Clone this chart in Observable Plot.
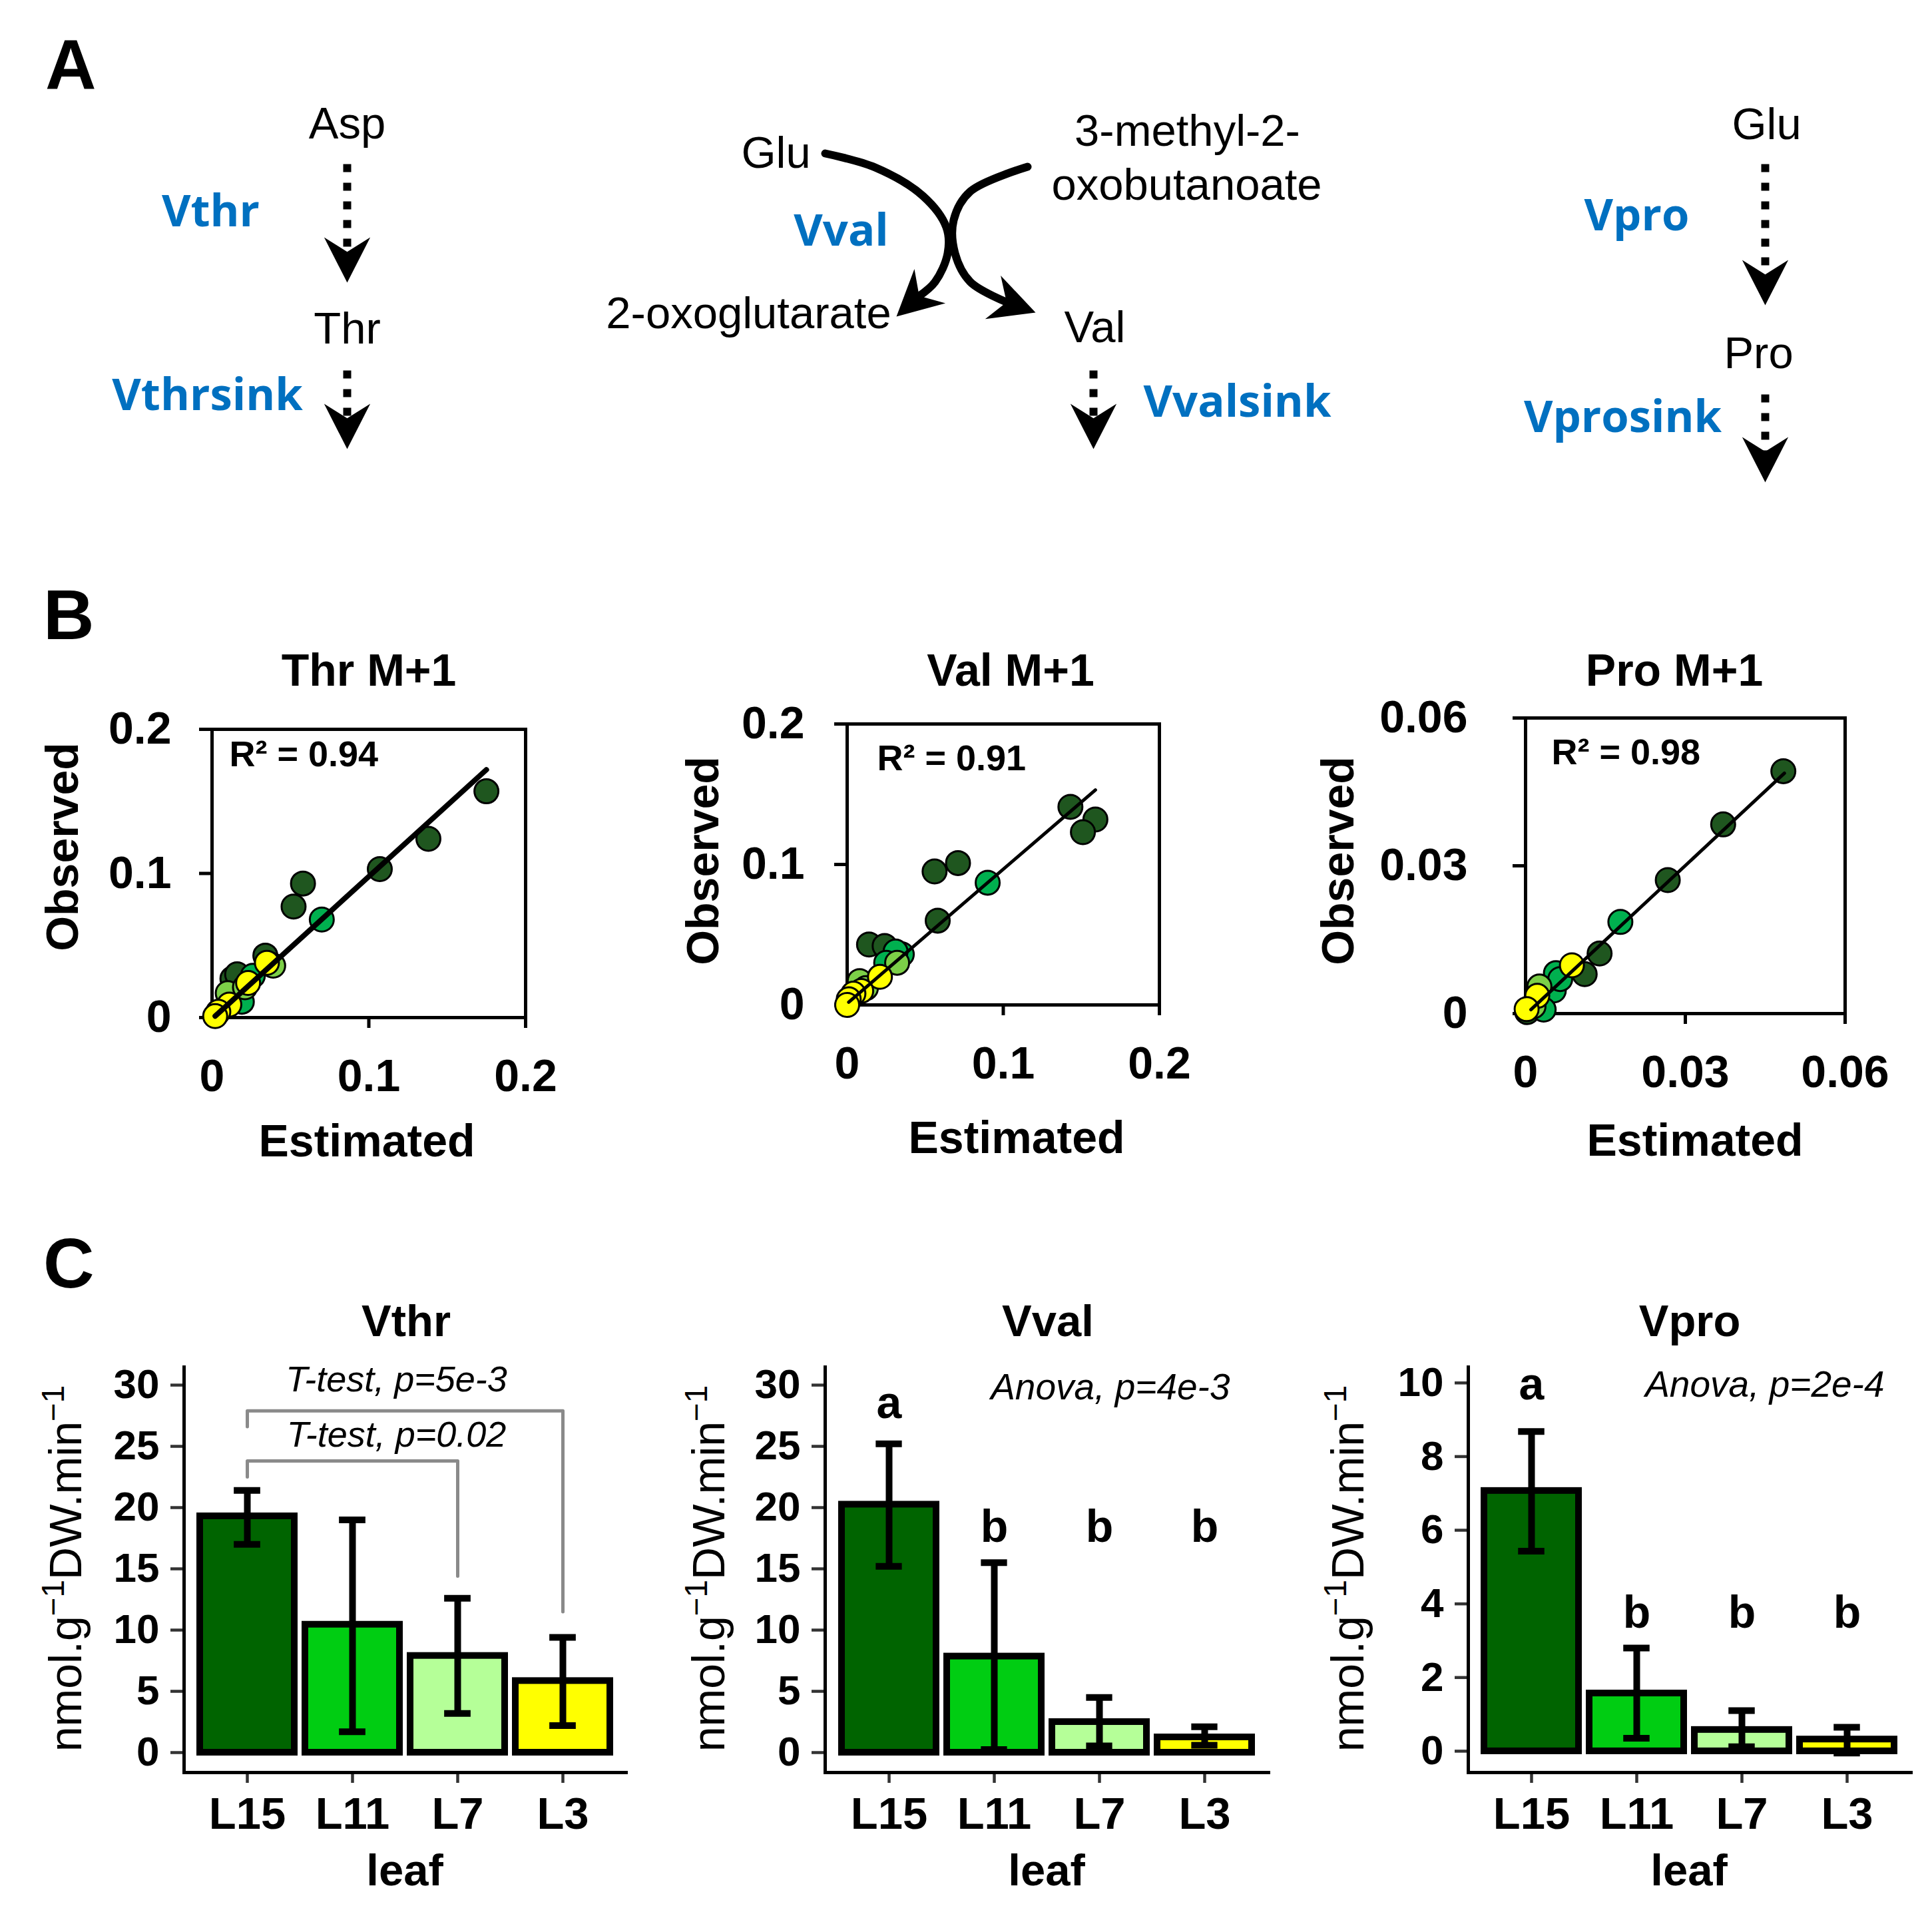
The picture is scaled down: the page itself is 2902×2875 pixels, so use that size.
<!DOCTYPE html>
<html>
<head>
<meta charset="utf-8">
<script src="https://cdn.jsdelivr.net/npm/d3@7"></script>
<script src="https://cdn.jsdelivr.net/npm/@observablehq/plot@0.6"></script>
<style>
  html, body { margin: 0; padding: 0; background: #fff; }
  #page { position: relative; width: 2902px; height: 2875px; overflow: hidden; background: #fff; }
</style>
</head>
<body>
<div id="page"></div>
<script>
// ---------------- DATA ----------------
const leaves = ["L15", "L11", "L7", "L3"];
const dotColors = ["#1f561f", "#00b04f", "#7ccf48", "#ffff00"];
const barColors = ["#006400", "#00cd12", "#b5ff98", "#ffff00"];

// Panel A – pathway diagram
const metaboliteNames = ["Asp", "Thr", "Glu", "3-methyl-2-", "oxobutanoate", "2-oxoglutarate", "Val", "Glu", "Pro"];
const fluxNames = ["Vthr", "Vthrsink", "Vval", "Vvalsink", "Vpro", "Vprosink"];

// Panel B – Thr M+1
const thrEstimated = [0.175, 0.138, 0.107, 0.058, 0.052, 0.034, 0.013, 0.016, 0.070, 0.026, 0.019, 0.037, 0.010, 0.021, 0.039, 0.035, 0.023, 0.011, 0.004, 0.002];
const thrObserved  = [0.157, 0.124, 0.103, 0.093, 0.077, 0.043, 0.027, 0.030, 0.068, 0.029, 0.011, 0.037, 0.017, 0.021, 0.036, 0.038, 0.024, 0.009, 0.004, 0.001];
const thrLeaf = ["L15","L15","L15","L15","L15","L15","L15","L15","L11","L11","L11","L11","L7","L7","L7","L3","L3","L3","L3","L3"];
const thrFitEstimated = [0.002, 0.175];
const thrFitObserved = [0.001, 0.172];
const thrR2 = "R² = 0.94";

// Panel B – Val M+1
const valEstimated = [0.143, 0.159, 0.151, 0.071, 0.056, 0.058, 0.014, 0.024, 0.090, 0.035, 0.031, 0.025, 0.032, 0.008, 0.012, 0.021, 0.009, 0.004, 0.001, 0.000];
const valObserved  = [0.141, 0.132, 0.123, 0.101, 0.095, 0.060, 0.043, 0.042, 0.087, 0.036, 0.038, 0.030, 0.030, 0.017, 0.012, 0.020, 0.010, 0.008, 0.004, 0.000];
const valLeaf = ["L15","L15","L15","L15","L15","L15","L15","L15","L11","L11","L11","L11","L7","L7","L7","L3","L3","L3","L3","L3"];
const valFitEstimated = [0.001, 0.159];
const valFitObserved = [0.002, 0.153];
const valR2 = "R² = 0.91";

// Panel B – Pro M+1
const proEstimated = [0.0484, 0.0371, 0.0267, 0.0139, 0.0111, 0.0003, 0.0178, 0.0057, 0.0053, 0.0034, 0.0065, 0.0026, 0.0015, 0.0087, 0.0022, 0.0002];
const proObserved  = [0.0492, 0.0384, 0.0271, 0.0122, 0.0080, 0.0003, 0.0186, 0.0082, 0.0047, 0.0008, 0.0070, 0.0055, 0.0015, 0.0098, 0.0036, 0.0009];
const proLeaf = ["L15","L15","L15","L15","L15","L15","L11","L11","L11","L11","L11","L7","L7","L3","L3","L3"];
const proFitEstimated = [0.001, 0.0486];
const proFitObserved = [0.0008, 0.0488];
const proR2 = "R² = 0.98";

const ticksB02 = [0, 0.1, 0.2];
const ticksB006 = [0, 0.03, 0.06];

// Panel C – fluxes (nmol.g-1 DW.min-1)
const vthrMean = [19.3, 10.45, 7.9, 5.85];
const vthrLow  = [17.0, 1.7, 3.2, 2.2];
const vthrHigh = [21.4, 19.0, 12.6, 9.4];
const vthrTestPairs = [["L15", "L7"], ["L15", "L3"]];
const vthrTestLabels = ["T-test, p=0.02", "T-test, p=5e-3"];

const vvalMean = [20.25, 7.85, 2.5, 1.25];
const vvalLow  = [15.2, 0.25, 0.55, 0.6];
const vvalHigh = [25.2, 15.5, 4.5, 2.1];
const vvalLetters = ["a", "b", "b", "b"];
const vvalAnova = "Anova, p=4e-3";

const vproMean = [7.07, 1.57, 0.58, 0.32];
const vproLow  = [5.43, 0.35, 0.12, -0.05];
const vproHigh = [8.68, 2.8, 1.1, 0.65];
const vproLetters = ["a", "b", "b", "b"];
const vproAnova = "Anova, p=2e-4";

const ticksC30 = [0, 5, 10, 15, 20, 25, 30];
const ticksC10 = [0, 2, 4, 6, 8, 10];

// ---------------- LAYOUT ----------------
const FONT = "'Liberation Sans', Arial, Helvetica, sans-serif";
const page = document.getElementById("page");
function mount(svg, left, top) {
  svg.style.position = "absolute";
  svg.style.left = left + "px";
  svg.style.top = top + "px";
  svg.style.maxWidth = "none";
  svg.style.background = "transparent";
  svg.style.overflow = "visible";
  page.appendChild(svg);
}
const plainNumber = d => String(d);

// ---------- Panel A ----------
const metabolitePos = [[521, 207], [521, 515], [1165, 251], [1783, 218], [1782, 299], [1124, 492], [1644, 513], [2653, 208], [2641, 552]];
const fluxPos = [[316, 339], [311, 615], [1263, 368], [1858, 625], [2458, 345], [2437, 648]];
const dashedArrows = [
  {x: 521, y1: 246, y2: 424},
  {x: 521, y1: 556, y2: 674},
  {x: 1642, y1: 556, y2: 674},
  {x: 2651, y1: 246, y2: 458},
  {x: 2651, y1: 592, y2: 724}
];
const curvedArrows = [
  {id: "glu", pts: [[1239, 230], [1314, 251], [1386, 294], [1421, 341], [1423, 380], [1404, 423], [1379, 445]], tip: [1346, 475]},
  {id: "kiv", pts: [[1543, 250], [1457, 287], [1432, 330], [1434, 380], [1457, 423], [1513, 454]], tip: [1555, 469]}
];
const NOTCH = 46;
const stealth = {
  draw(ctx, size) {
    const r = Math.sqrt(size / Math.PI);
    ctx.moveTo(0, 0);
    ctx.lineTo(r * 1.02, 2 * r);
    ctx.lineTo(0, 1.36 * r);
    ctx.lineTo(-r * 1.02, 2 * r);
    ctx.closePath();
  }
};
const heads = [
  ...dashedArrows.map(d => ({x: d.x, y: d.y2, rot: 180})),
  ...curvedArrows.map(d => {
    const [lx, ly] = d.pts[d.pts.length - 1];
    const [tx, ty] = d.tip;
    return {x: tx, y: ty, rot: Math.atan2(ty - ly, tx - lx) * 180 / Math.PI + 90};
  })
];
const curveRows = curvedArrows.flatMap(d => d.pts.map(([x, y]) => ({id: d.id, x, y})));
const metabolites = metaboliteNames.map((name, i) => ({name, x: metabolitePos[i][0], y: metabolitePos[i][1]}));
const fluxes = fluxNames.map((name, i) => ({name, x: fluxPos[i][0], y: fluxPos[i][1]}));

mount(Plot.plot({
  width: 2902, height: 820, margin: 0,
  x: {domain: [0, 2902], range: [0, 2902], axis: null},
  y: {domain: [0, 820], range: [0, 820], axis: null},
  style: {fontFamily: FONT, background: "transparent"},
  marks: [
    Plot.link(dashedArrows, {x1: "x", x2: "x", y1: "y1", y2: d => d.y2 - NOTCH, stroke: "black", strokeWidth: 12, strokeDasharray: "12,16"}),
    Plot.line(curveRows, {x: "x", y: "y", z: "id", curve: "catmull-rom", stroke: "black", strokeWidth: 12}),
    Plot.dot(heads, {x: "x", y: "y", rotate: "rot", symbol: stealth, r: 34, fill: "black", stroke: null}),
    Plot.text(metabolites, {x: "x", y: "y", text: "name", fontSize: 67, lineAnchor: "bottom", fill: "black"}),
    Plot.text(fluxes, {x: "x", y: "y", text: "name", fontSize: 67, lineAnchor: "bottom", fill: "#0070c0", fontWeight: 700, fontFamily: "'Open Sans', sans-serif"})
  ]
}), 0, 0);

// ---------- Panel B ----------
function scatterPanel(p) {
  const rows = p.estimated.map((e, i) => ({estimated: e, observed: p.observed[i], leaf: p.leaf[i]}));
  const fit = p.fitEstimated.map((e, i) => ({estimated: e, observed: p.fitObserved[i]}));
  const m = {top: 40, right: 110, bottom: 160, left: 230};
  const b = p.box;
  const svg = Plot.plot({
    width: b.x1 - b.x0 + m.left + m.right,
    height: b.y1 - b.y0 + m.top + m.bottom,
    marginTop: m.top, marginRight: m.right, marginBottom: m.bottom, marginLeft: m.left,
    x: {domain: p.domain, axis: null, label: null},
    y: {domain: p.domain, axis: null, label: null},
    color: {domain: leaves, range: dotColors},
    style: {fontFamily: FONT, background: "transparent"},
    marks: [
      Plot.axisY({ticks: p.ticks, tickFormat: plainNumber, tickSize: 19, tickPadding: p.padY, strokeWidth: 5, fontSize: 68, fontWeight: "bold", label: null}),
      Plot.axisX({ticks: p.ticks, tickFormat: plainNumber, tickSize: 16, tickPadding: 46, strokeWidth: 5, fontSize: 68, fontWeight: "bold", label: null}),
      Plot.frame({stroke: "black", strokeWidth: 5}),
      Plot.dot(rows, {x: "estimated", y: "observed", fill: "leaf", stroke: "black", strokeWidth: 3, r: 18}),
      Plot.line(fit, {x: "estimated", y: "observed", stroke: "black", strokeWidth: p.lineWidth}),
      Plot.text([p.r2], {text: d => d, frameAnchor: "top-left", textAnchor: "start", lineAnchor: "bottom", dx: p.r2dx, dy: p.r2dy, fontSize: 54, fontWeight: "bold", fill: "black"})
    ]
  });
  mount(svg, b.x0 - m.left, b.y0 - m.top);
}

scatterPanel({estimated: thrEstimated, observed: thrObserved, leaf: thrLeaf, fitEstimated: thrFitEstimated, fitObserved: thrFitObserved,
  r2: thrR2, domain: [0, 0.2], ticks: ticksB02, box: {x0: 318, x1: 789, y0: 1095, y1: 1528}, padY: 42, lineWidth: 8, r2dx: 26, r2dy: 55});
scatterPanel({estimated: valEstimated, observed: valObserved, leaf: valLeaf, fitEstimated: valFitEstimated, fitObserved: valFitObserved,
  r2: valR2, domain: [0, 0.2], ticks: ticksB02, box: {x0: 1272, x1: 1741, y0: 1087, y1: 1509}, padY: 45, lineWidth: 5, r2dx: 45, r2dy: 69});
scatterPanel({estimated: proEstimated, observed: proObserved, leaf: proLeaf, fitEstimated: proFitEstimated, fitObserved: proFitObserved,
  r2: proR2, domain: [0, 0.06], ticks: ticksB006, box: {x0: 2291, x1: 2771, y0: 1078, y1: 1522}, padY: 68, lineWidth: 5, r2dx: 39, r2dy: 69});

// ---------- Panel C ----------
function barPanel(p) {
  const rows = leaves.map((leaf, i) => ({leaf, mean: p.mean[i], low: p.low[i], high: p.high[i]}));
  const m = {top: 60, right: 40, bottom: 130, left: 230};
  const b = p.box;
  const bandwidth = (b.x1 - b.x0) / 4.2 * 0.9;
  const capInset = (bandwidth - 40) / 2;
  const marks = [
    Plot.axisY({ticks: p.ticks, tickSize: 20, tickPadding: 17, stroke: "#333", strokeWidth: 4.5, fontSize: 62, fontWeight: "bold", fill: "black", label: null}),
    Plot.axisX({tickSize: 16, tickPadding: 21, stroke: "#333", strokeWidth: 4.5, fontSize: 67, fontWeight: "bold", fill: "black", label: null}),
    Plot.frame({anchor: "left", stroke: "black", strokeWidth: 5}),
    Plot.frame({anchor: "bottom", stroke: "black", strokeWidth: 5}),
    Plot.barY(rows, {x: "leaf", y: "mean", fill: "leaf", stroke: "black", strokeWidth: 10}),
    Plot.ruleX(rows, {x: "leaf", y1: "low", y2: "high", stroke: "black", strokeWidth: 10}),
    Plot.tickY(rows, {x: "leaf", y: "low", stroke: "black", strokeWidth: 10, insetLeft: capInset, insetRight: capInset}),
    Plot.tickY(rows, {x: "leaf", y: "high", stroke: "black", strokeWidth: 10, insetLeft: capInset, insetRight: capInset})
  ];
  if (p.tests) {
    const bracketRows = p.tests.flatMap((t, i) => [
      {id: i, leaf: t.pair[0], v: t.legFrom},
      {id: i, leaf: t.pair[0], v: t.bar},
      {id: i, leaf: t.pair[1], v: t.bar},
      {id: i, leaf: t.pair[1], v: t.legTo}
    ]);
    marks.push(Plot.line(bracketRows, {x: "leaf", y: "v", z: "id", stroke: "#8a8a8a", strokeWidth: 5}));
    marks.push(Plot.text(p.tests, {y: "labelAt", text: "label", frameAnchor: "middle", dx: -13, fontSize: 54, fontStyle: "italic", fill: "black"}));
  }
  if (p.letters) {
    const letterRows = leaves.map((leaf, i) => ({leaf, letter: p.letters[i], v: i === 0 ? p.letterLevels[0] : p.letterLevels[1]}));
    marks.push(Plot.text(letterRows, {x: "leaf", y: "v", text: "letter", fontSize: 68, fontWeight: "bold", fill: "black"}));
  }
  if (p.anova) {
    marks.push(Plot.text([{t: p.anova, v: p.anovaLevel}], {y: "v", text: "t", frameAnchor: "right", textAnchor: "end", dx: p.anovaDx, fontSize: 55, fontStyle: "italic", fill: "black"}));
  }
  const svg = Plot.plot({
    width: b.x1 - b.x0 + m.left + m.right,
    height: b.y1 - b.y0 + m.top + m.bottom,
    marginTop: m.top, marginRight: m.right, marginBottom: m.bottom, marginLeft: m.left,
    x: {type: "band", domain: leaves, paddingInner: 0.1, paddingOuter: 0.15, align: 0.5, axis: null, label: null},
    y: {domain: p.domain, axis: null, label: null},
    color: {domain: leaves, range: barColors},
    style: {fontFamily: FONT, background: "transparent"},
    marks
  });
  mount(svg, b.x0 - m.left, b.y0 - m.top);
}

barPanel({mean: vthrMean, low: vthrLow, high: vthrHigh, ticks: ticksC30, domain: [-1.63, 31.47],
  box: {x0: 276, x1: 940, y0: 2053, y1: 2662},
  tests: [
    {pair: vthrTestPairs[0], label: vthrTestLabels[0], bar: 23.8, legFrom: 22.5, legTo: 14.4, labelAt: 25.9},
    {pair: vthrTestPairs[1], label: vthrTestLabels[1], bar: 27.9, legFrom: 26.6, legTo: 11.5, labelAt: 30.4}
  ]});
barPanel({mean: vvalMean, low: vvalLow, high: vvalHigh, ticks: ticksC30, domain: [-1.63, 31.47],
  box: {x0: 1239, x1: 1905, y0: 2053, y1: 2662},
  letters: vvalLetters, letterLevels: [28.5, 18.4], anova: vvalAnova, anovaLevel: 29.8, anovaDx: -58});
barPanel({mean: vproMean, low: vproLow, high: vproHigh, ticks: ticksC10, domain: [-0.58, 10.43],
  box: {x0: 2205, x1: 2870, y0: 2053, y1: 2662},
  letters: vproLetters, letterLevels: [9.95, 3.75], anova: vproAnova, anovaLevel: 9.95, anovaDx: -40});

// ---------- Titles & axis titles ----------
const overlay = d3.create("svg")
  .attr("width", 2902).attr("height", 2875)
  .attr("font-family", FONT)
  .style("position", "absolute").style("left", "0px").style("top", "0px").style("overflow", "visible");
function addText(str, x, y, size, opts = {}) {
  const t = overlay.append("text")
    .attr("transform", `translate(${x},${y})` + (opts.rotate ? ` rotate(${opts.rotate})` : ""))
    .attr("text-anchor", opts.anchor || "middle")
    .attr("font-size", size)
    .attr("font-weight", opts.weight || "bold")
    .attr("fill", "black");
  if (Array.isArray(str)) {
    for (const part of str) {
      const s = t.append("tspan").text(part.text);
      if (part.sup) s.attr("font-size", size * 0.7).attr("dy", -26);
      else if (part.after) s.attr("dy", 26);
    }
  } else t.text(str);
  return t;
}
addText("A", 68, 134, 106, {anchor: "start"});
addText("B", 65, 960, 106, {anchor: "start"});
addText("C", 65, 1934, 106, {anchor: "start"});

const bTitles = [["Thr M+1", 554], ["Val M+1", 1518], ["Pro M+1", 2515]];
bTitles.forEach(([t, x]) => addText(t, x, 1030, 68));
[[551, 1737], [1527, 1732], [2546, 1736]].forEach(([x, y]) => addText("Estimated", x, y, 68));
[[117, 1272], [1079, 1293], [2033, 1293]].forEach(([x, y]) => addText("Observed", x, y, 68, {rotate: -90}));

const cTitles = [["Vthr", 610], ["Vval", 1574], ["Vpro", 2538]];
cTitles.forEach(([t, x]) => addText(t, x, 2007, 67));
[608, 1572, 2537].forEach(x => addText("leaf", x, 2832, 67));
[122, 1088, 2048].forEach(x => addText([
  {text: "nmol.g"}, {text: "−1", sup: true}, {text: "DW.min", after: true}, {text: "−1", sup: true}
], x, 2356, 68, {rotate: -90, weight: "normal"}));

page.appendChild(overlay.node());
</script>
</body>
</html>
